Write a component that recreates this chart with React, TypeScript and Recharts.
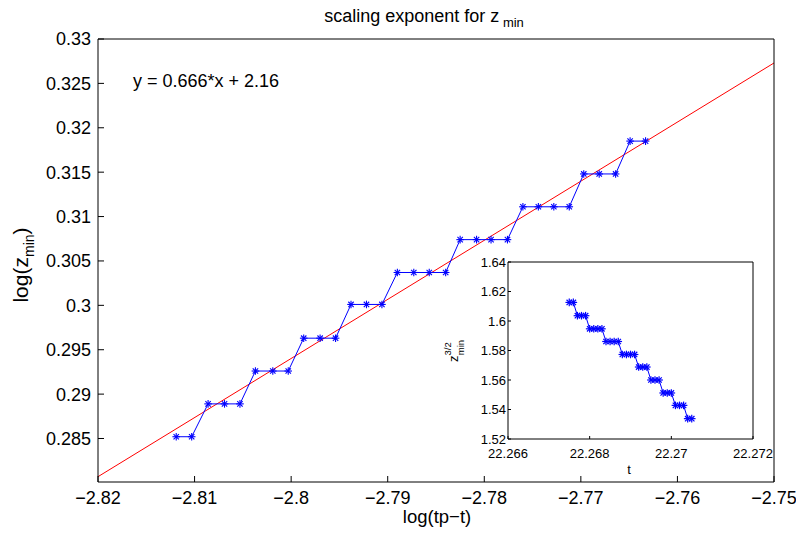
import { Line, LineChart, XAxis, YAxis } from "recharts";

// main plot: log(z_min) against log(tp - t)
const mainX = [
  -2.8119, -2.8103, -2.8086, -2.8069, -2.8053, -2.8037, -2.8019, -2.8003, -2.7987, -2.797,
  -2.7954, -2.7938, -2.7922, -2.7906, -2.789, -2.7873, -2.7857, -2.784, -2.7825, -2.7808,
  -2.7793, -2.7776, -2.776, -2.7744, -2.7728, -2.7712, -2.7697, -2.7681, -2.7664, -2.7649,
  -2.7633
];
const mainY = [
  0.2852, 0.2852, 0.2889, 0.2889, 0.2889, 0.2926, 0.2926, 0.2926, 0.2963, 0.2963,
  0.2963, 0.3001, 0.3001, 0.3001, 0.3037, 0.3037, 0.3037, 0.3037, 0.3074, 0.3074,
  0.3074, 0.3074, 0.3111, 0.3111, 0.3111, 0.3111, 0.3148, 0.3148, 0.3148, 0.3185,
  0.3185
];

// fitted line y = 0.666*x + 2.16, end points at the axis limits
const fitX = [-2.82, -2.75];
const fitY = [0.2807, 0.3273];

// inset: z_min^(3/2) against t
const insetT = [
  22.2675, 22.2676, 22.2677, 22.2678, 22.2679, 22.268, 22.2681, 22.2682, 22.2683, 22.2684,
  22.2685, 22.2686, 22.2687, 22.2688, 22.2689, 22.269, 22.2691, 22.2692, 22.2693, 22.2694,
  22.2695, 22.2696, 22.2697, 22.2698, 22.2699, 22.27, 22.2701, 22.2702, 22.2703, 22.2704,
  22.2705
];
const insetZ = [
  1.6126, 1.6126, 1.6036, 1.6036, 1.6036, 1.5947, 1.5947, 1.5947, 1.5947, 1.5861,
  1.5861, 1.5861, 1.5861, 1.5773, 1.5773, 1.5773, 1.5773, 1.5688, 1.5688, 1.5688,
  1.56, 1.56, 1.56, 1.5512, 1.5512, 1.5512, 1.5428, 1.5428, 1.5428, 1.5338,
  1.5338
];

const mainXTicks = [-2.82, -2.81, -2.8, -2.79, -2.78, -2.77, -2.76, -2.75];
const mainYTicks = [0.285, 0.29, 0.295, 0.3, 0.305, 0.31, 0.315, 0.32, 0.325, 0.33];
const insetXTicks = [22.266, 22.268, 22.27, 22.272];
const insetYTicks = [1.52, 1.54, 1.56, 1.58, 1.6, 1.62, 1.64];

const FONT = "'Liberation Sans', Arial, Helvetica, sans-serif";
const BLUE = "#0000ff";
const RED = "#ff0000";

const mainData = mainX.map((x, i) => ({ x, y: mainY[i] }));
const fitData = fitX.map((x, i) => ({ x, y: fitY[i] }));
const insetData = insetT.map((x, i) => ({ x, y: insetZ[i] }));

const minus = (v: number) => String(v).replace("-", "\u2212");

// matlab style '*' marker
const star = (r: number, w: number) => (props: any) => {
  const { cx, cy, index } = props;
  if (cx == null || cy == null) return <g key={index} />;
  const d = r * 0.7071;
  return (
    <g key={index} stroke={BLUE} strokeWidth={w}>
      <line x1={cx - r} y1={cy} x2={cx + r} y2={cy} />
      <line x1={cx} y1={cy - r} x2={cx} y2={cy + r} />
      <line x1={cx - d} y1={cy - d} x2={cx + d} y2={cy + d} />
      <line x1={cx - d} y1={cy + d} x2={cx + d} y2={cy - d} />
    </g>
  );
};

function MainChart() {
  const tick = { fill: "#000", fontSize: 18, fontFamily: FONT };
  return (
    <LineChart width={796} height={537} margin={{ top: 38, right: 21, bottom: 0, left: 0 }}>
      <XAxis
        xAxisId="b"
        type="number"
        dataKey="x"
        domain={[-2.82, -2.75]}
        ticks={mainXTicks}
        interval={0}
        allowDataOverflow
        height={55}
        tickSize={-6}
        tickMargin={15}
        tickFormatter={minus}
        tick={tick}
        stroke="#000"
      />
      <XAxis
        xAxisId="t"
        orientation="top"
        type="number"
        dataKey="x"
        domain={[-2.82, -2.75]}
        ticks={mainXTicks}
        interval={0}
        allowDataOverflow
        height={1}
        tickSize={-6}
        tick={false}
        stroke="#000"
      />
      <YAxis
        yAxisId="l"
        type="number"
        domain={[0.2801, 0.33]}
        ticks={mainYTicks}
        interval={0}
        allowDataOverflow
        width={98}
        tickSize={-6}
        tickMargin={13}
        tick={tick}
        stroke="#000"
      />
      <YAxis
        yAxisId="r"
        orientation="right"
        type="number"
        domain={[0.2801, 0.33]}
        ticks={mainYTicks}
        interval={0}
        allowDataOverflow
        width={1}
        tickSize={-6}
        tick={false}
        stroke="#000"
      />
      <Line
        xAxisId="b"
        yAxisId="l"
        data={fitData}
        dataKey="y"
        stroke={RED}
        strokeWidth={1}
        dot={false}
        isAnimationActive={false}
      />
      <Line
        xAxisId="b"
        yAxisId="l"
        data={mainData}
        dataKey="y"
        stroke={BLUE}
        strokeWidth={1}
        dot={star(3.8, 1.1)}
        isAnimationActive={false}
      />
    </LineChart>
  );
}

function InsetChart() {
  const tick = { fill: "#000", fontSize: 13, fontFamily: FONT };
  return (
    <LineChart width={370} height={225} margin={{ top: 6, right: 46, bottom: 0, left: 0 }}>
      <XAxis
        xAxisId="b"
        type="number"
        dataKey="x"
        domain={[22.266, 22.272]}
        ticks={insetXTicks}
        interval={0}
        allowDataOverflow
        height={41}
        tickSize={-3}
        tickMargin={13}
        tick={tick}
        stroke="#000"
      />
      <XAxis
        xAxisId="t"
        orientation="top"
        type="number"
        dataKey="x"
        domain={[22.266, 22.272]}
        ticks={insetXTicks}
        interval={0}
        allowDataOverflow
        height={1}
        tickSize={-3}
        tick={false}
        stroke="#000"
      />
      <YAxis
        yAxisId="l"
        type="number"
        domain={[1.52, 1.64]}
        ticks={insetYTicks}
        interval={0}
        allowDataOverflow
        width={78}
        tickSize={-3}
        tickMargin={5}
        tick={tick}
        stroke="#000"
      />
      <YAxis
        yAxisId="r"
        orientation="right"
        type="number"
        domain={[1.52, 1.64]}
        ticks={insetYTicks}
        interval={0}
        allowDataOverflow
        width={1}
        tickSize={-3}
        tick={false}
        stroke="#000"
      />
      <Line
        xAxisId="b"
        yAxisId="l"
        data={insetData}
        dataKey="y"
        stroke={BLUE}
        strokeWidth={1}
        dot={star(3.8, 1.2)}
        isAnimationActive={false}
      />
    </LineChart>
  );
}

export default function App() {
  return (
    <div style={{ position: "fixed", left: 0, top: 0, width: 796, height: 537, background: "#fff" }}>
      <MainChart />
      <div style={{ position: "absolute", left: 430, top: 255 }}>
        <InsetChart />
      </div>
      <svg
        width={796}
        height={537}
        style={{ position: "absolute", left: 0, top: 0, pointerEvents: "none" }}
        fontFamily={FONT}
        fill="#000"
      >
        <text x={424} y={22} fontSize={18} textAnchor="middle">
          scaling exponent for z
          <tspan fontSize={13} dy={5}> min</tspan>
        </text>
        <text x={133} y={87} fontSize={18}>
          y = 0.666*x + 2.16
        </text>
        <text x={437} y={523} fontSize={18.5} textAnchor="middle">
          log(tp{"\u2212"}t)
        </text>
        <text transform="translate(28,265) rotate(-90)" fontSize={21} textAnchor="middle">
          log(z
          <tspan fontSize={14} dy={6}>min</tspan>
          <tspan dy={-6}>)</tspan>
        </text>
        <text transform="translate(458,362) rotate(-90)" fontSize={13}>
          z
          <tspan fontSize={9.5} dy={-7}>3/2</tspan>
          <tspan fontSize={9.5} dx={-13} dy={13}>min</tspan>
        </text>
        <text x={629} y={474} fontSize={13} textAnchor="middle">
          t
        </text>
      </svg>
    </div>
  );
}
